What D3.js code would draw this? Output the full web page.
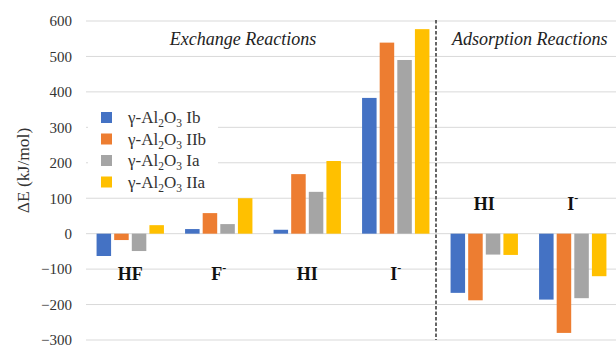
<!DOCTYPE html>
<html>
<head>
<meta charset="utf-8">
<script src="https://cdn.jsdelivr.net/npm/d3@7/dist/d3.min.js"></script>
<style>
  html, body { margin: 0; padding: 0; background: #fff; }
  svg { display: block; }
</style>
</head>
<body>
<svg id="chart" width="616" height="347" font-family="Liberation Serif"></svg>
<script>
// Reaction groups (exchange first, then adsorption)
const categories = ["HF", "F-", "HI", "I-", "HI (ads)", "I- (ads)"];
const categoryNames = [
  { base: "HF", sup: "" },
  { base: "F", sup: "-" },
  { base: "HI", sup: "" },
  { base: "I", sup: "-" },
  { base: "HI", sup: "" },
  { base: "I", sup: "-" }
];
const categoryKind = ["exchange", "exchange", "exchange", "exchange", "adsorption", "adsorption"];

// Surface models
const seriesNames = ["Ib", "IIb", "Ia", "IIa"];
const seriesColors = ["#4472C4", "#ED7D31", "#A5A5A5", "#FFC000"];

// ΔE (kJ/mol) per surface model, one entry per reaction group
const valuesIb  = [-63, 13, 11, 383, -167, -186];
const valuesIIb = [-18, 58, 168, 539, -188, -280];
const valuesIa  = [-49, 27, 118, 490, -59, -182];
const valuesIIa = [24, 100, 205, 577, -60, -120];
const seriesValues = [valuesIb, valuesIIb, valuesIa, valuesIIa];

const yTicks = [-300, -200, -100, 0, 100, 200, 300, 400, 500, 600];

const FONT = "Liberation Serif";
const svg = d3.select("#chart");
const plot = { left: 86, right: 617, top: 21, bottom: 340 };

const y = d3.scaleLinear().domain([-300, 600]).range([plot.bottom, plot.top]);
const x0 = d3.scaleBand().domain(categories).range([plot.left, plot.right]).paddingInner(0).paddingOuter(0);
const x1 = d3.scaleBand().domain(seriesNames).range([0, x0.bandwidth()]).paddingInner(0.176).paddingOuter(0.6);

// Horizontal gridlines
svg.append("g")
  .selectAll("line")
  .data(yTicks)
  .join("line")
  .attr("x1", plot.left).attr("x2", plot.right)
  .attr("y1", d => y(d)).attr("y2", d => y(d))
  .attr("stroke", "#d9d9d9").attr("stroke-width", 1);

// Y axis tick labels
const yAxis = d3.axisLeft(y).tickValues(yTicks).tickSize(0).tickPadding(14).tickFormat(d3.format("d"));
svg.append("g")
  .attr("transform", `translate(${plot.left},0)`)
  .call(yAxis)
  .call(g => g.attr("font-family", FONT).attr("font-size", 15))
  .call(g => g.select(".domain").remove())
  .call(g => g.selectAll("text").attr("fill", "#333"));

// Y axis title
svg.append("text")
  .attr("transform", `translate(25,${(plot.top + plot.bottom) / 2 - 10}) rotate(-90)`)
  .attr("text-anchor", "middle")
  .attr("dominant-baseline", "middle")
  .attr("font-family", FONT)
  .attr("font-size", 17.5)
  .attr("fill", "#333")
  .text("ΔE (kJ/mol)");

// Bars
const bars = [];
categories.forEach((c, i) => {
  seriesNames.forEach((s, j) => {
    bars.push({ cat: c, series: s, value: seriesValues[j][i], color: seriesColors[j] });
  });
});
svg.append("g")
  .selectAll("rect")
  .data(bars)
  .join("rect")
  .attr("x", d => x0(d.cat) + x1(d.series))
  .attr("width", x1.bandwidth())
  .attr("y", d => y(Math.max(0, d.value)))
  .attr("height", d => Math.abs(y(d.value) - y(0)))
  .attr("fill", d => d.color);

// Divider between exchange and adsorption groups
const dividerX = x0(categories[4]) - 4;
svg.append("line")
  .attr("x1", dividerX).attr("x2", dividerX)
  .attr("y1", plot.top - 1).attr("y2", plot.bottom)
  .attr("stroke", "#404040").attr("stroke-width", 1.6)
  .attr("stroke-dasharray", "3.5,2");

// Section titles
svg.append("text")
  .attr("x", (x0(categories[0]) + x0(categories[3]) + x0.bandwidth()) / 2 - 20)
  .attr("y", 45)
  .attr("text-anchor", "middle")
  .attr("font-family", FONT)
  .attr("font-style", "italic")
  .attr("font-size", 18)
  .attr("fill", "#222")
  .text("Exchange Reactions");
svg.append("text")
  .attr("x", dividerX + 16)
  .attr("y", 45)
  .attr("text-anchor", "start")
  .attr("font-family", FONT)
  .attr("font-style", "italic")
  .attr("font-size", 18)
  .attr("fill", "#222")
  .text("Adsorption Reactions");

// Category labels: exchange labels sit below the axis, adsorption labels above
const labelLevel = { exchange: -119, adsorption: 77 };
const catLabels = svg.append("g")
  .selectAll("text")
  .data(categories)
  .join("text")
  .attr("x", d => x0(d) + x0.bandwidth() / 2)
  .attr("y", (d, i) => y(labelLevel[categoryKind[i]]))
  .attr("text-anchor", "middle")
  .attr("dominant-baseline", "middle")
  .attr("font-family", FONT)
  .attr("font-weight", "bold")
  .attr("font-size", 18)
  .attr("fill", "#111");
catLabels.each(function (d, i) {
  const t = d3.select(this);
  const n = categoryNames[i];
  t.append("tspan").text(n.base);
  if (n.sup) {
    t.append("tspan").attr("font-size", 12).attr("dy", -7).text(n.sup);
  }
});

// Legend
const legend = svg.append("g").attr("transform", "translate(96,106)");
legend.append("rect")
  .attr("x", -8).attr("y", 0).attr("width", 130).attr("height", 88)
  .attr("fill", "#fff");
seriesNames.forEach((s, j) => {
  const row = legend.append("g").attr("transform", `translate(0,${11.5 + j * 21.5})`);
  row.append("rect")
    .attr("x", 5).attr("y", -5.5).attr("width", 11).attr("height", 11)
    .attr("fill", seriesColors[j]);
  const t = row.append("text")
    .attr("x", 32).attr("y", 5.5)
    .attr("font-family", FONT)
    .attr("font-size", 17)
    .attr("fill", "#333");
  t.append("tspan").text("γ-Al");
  t.append("tspan").attr("font-size", 11.5).attr("dy", 4).text("2");
  t.append("tspan").attr("dy", -4).text("O");
  t.append("tspan").attr("font-size", 11.5).attr("dy", 4).text("3");
  t.append("tspan").attr("dy", -4).text(" " + s);
});
</script>
</body>
</html>
